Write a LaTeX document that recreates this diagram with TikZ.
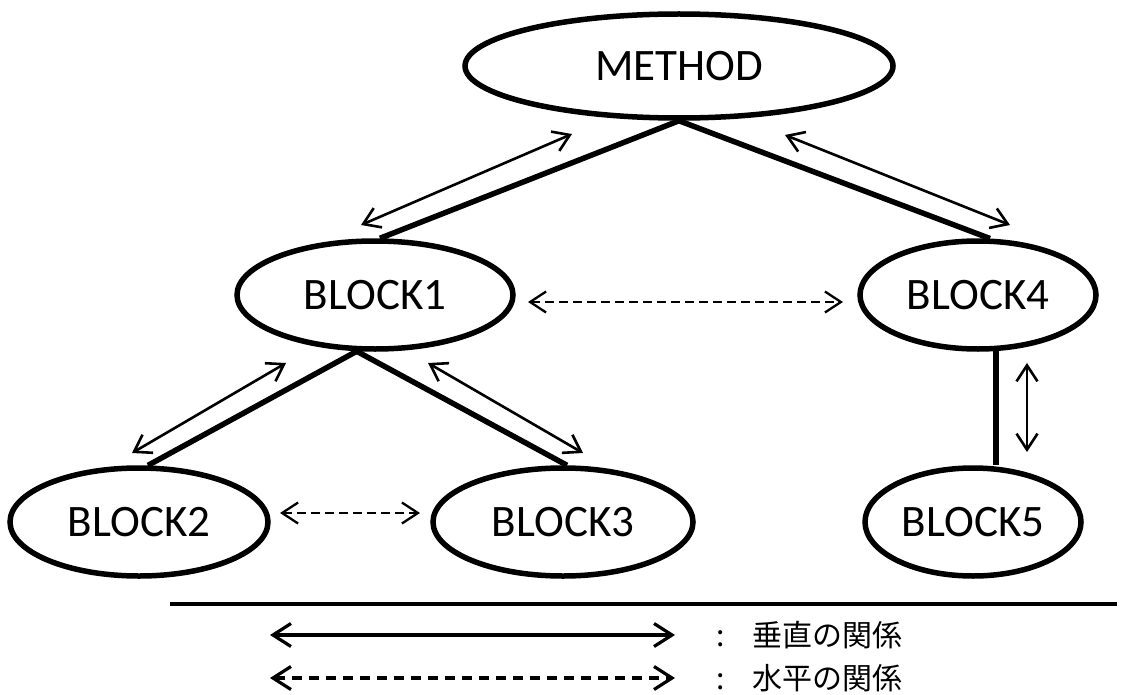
\documentclass[tikz,border=0pt]{standalone}
\usepackage{fontspec}
\setmainfont{Carlito}
\newfontfamily\jpfont{Noto Sans CJK JP}
\usetikzlibrary{arrows.meta,shapes.geometric}

\begin{document}
\begin{tikzpicture}[x=1pt,y=-1pt,
  blob/.style={ellipse, draw, line width=5.5pt, inner sep=0pt,
    minimum height=108pt, font=\fontsize{45}{54}\selectfont},
  link/.style={line width=5.5pt},
  barb/.tip={Straight Barb[length=16pt,width=21pt]},
  bigbarb/.tip={Straight Barb[length=18pt,width=23pt]},
  rel/.style={line width=2.6pt, barb-barb},
  side/.style={line width=2.3pt, dash pattern=on 9pt off 5pt, barb-barb},
  legsolid/.style={line width=3.2pt, bigbarb-bigbarb},
  legdash/.style={line width=3.2pt, dash pattern=on 10pt off 7pt, bigbarb-bigbarb},
  legtext/.style={anchor=west, inner sep=0pt, font=\jpfont\fontsize{30}{34}\selectfont}
]
\useasboundingbox (0,0) rectangle (1134,695);

% hierarchy nodes
\node[blob, minimum width=428pt, minimum height=104pt] (m) at (679,66) {METHOD};
\node[blob, minimum width=276pt] (b1) at (375,295) {BLOCK1};
\node[blob, minimum width=236pt] (b4) at (978,295) {BLOCK4};
\node[blob, minimum width=258pt] (b2) at (139,522) {BLOCK2};
\node[blob, minimum width=260pt] (b3) at (563,522) {BLOCK3};
\node[blob, minimum width=216pt] (b5) at (973,522) {BLOCK5};

% tree edges
\draw[link] (m.south) -- (b1.85);
\draw[link] (m.south) -- (b4.78);
\draw[link] (b1.252) -- (b2.81);
\draw[link] (b1.252) -- (b3.86);
\draw[link] (b4.-72) -- (b4.-72 |- b5.north);

% vertical relation arrows beside the edges
\coordinate (v1a) at (361,225); \coordinate (v1b) at (572,134);
\coordinate (v2a) at (785,135); \coordinate (v2b) at (1010,225);
\coordinate (v3a) at (132,453); \coordinate (v3b) at (286,363);
\coordinate (v4a) at (428,363); \coordinate (v4b) at (583,453);
\coordinate (v5a) at (1027,363); \coordinate (v5b) at (1027,452);
\draw[rel] (v1a) -- (v1b);
\draw[rel] (v2a) -- (v2b);
\draw[rel] (v3a) -- (v3b);
\draw[rel] (v4a) -- (v4b);
\draw[rel] (v5a) -- (v5b);

% horizontal relation arrows
\coordinate (h1a) at (528,302); \coordinate (h1b) at (843,302);
\coordinate (h2a) at (280,513); \coordinate (h2b) at (420,513);
\draw[side] (h1a) -- (h1b);
\draw[side] (h2a) -- (h2b);

% legend
\coordinate (ruleL) at (170,604); \coordinate (ruleR) at (1117,604);
\draw[line width=3.3pt] (ruleL) -- (ruleR);
\coordinate (k1a) at (270,635); \coordinate (k1b) at (675,635);
\coordinate (k2a) at (270,678); \coordinate (k2b) at (675,678);
\draw[legsolid] (k1a) -- (k1b);
\draw[legdash] (k2a) -- (k2b);
\node[legtext] (t1) at (716,635) {:\hspace{28pt}垂直の関係};
\node[legtext] (t2) at (716,678) {:\hspace{28pt}水平の関係};
\end{tikzpicture}
\end{document}
